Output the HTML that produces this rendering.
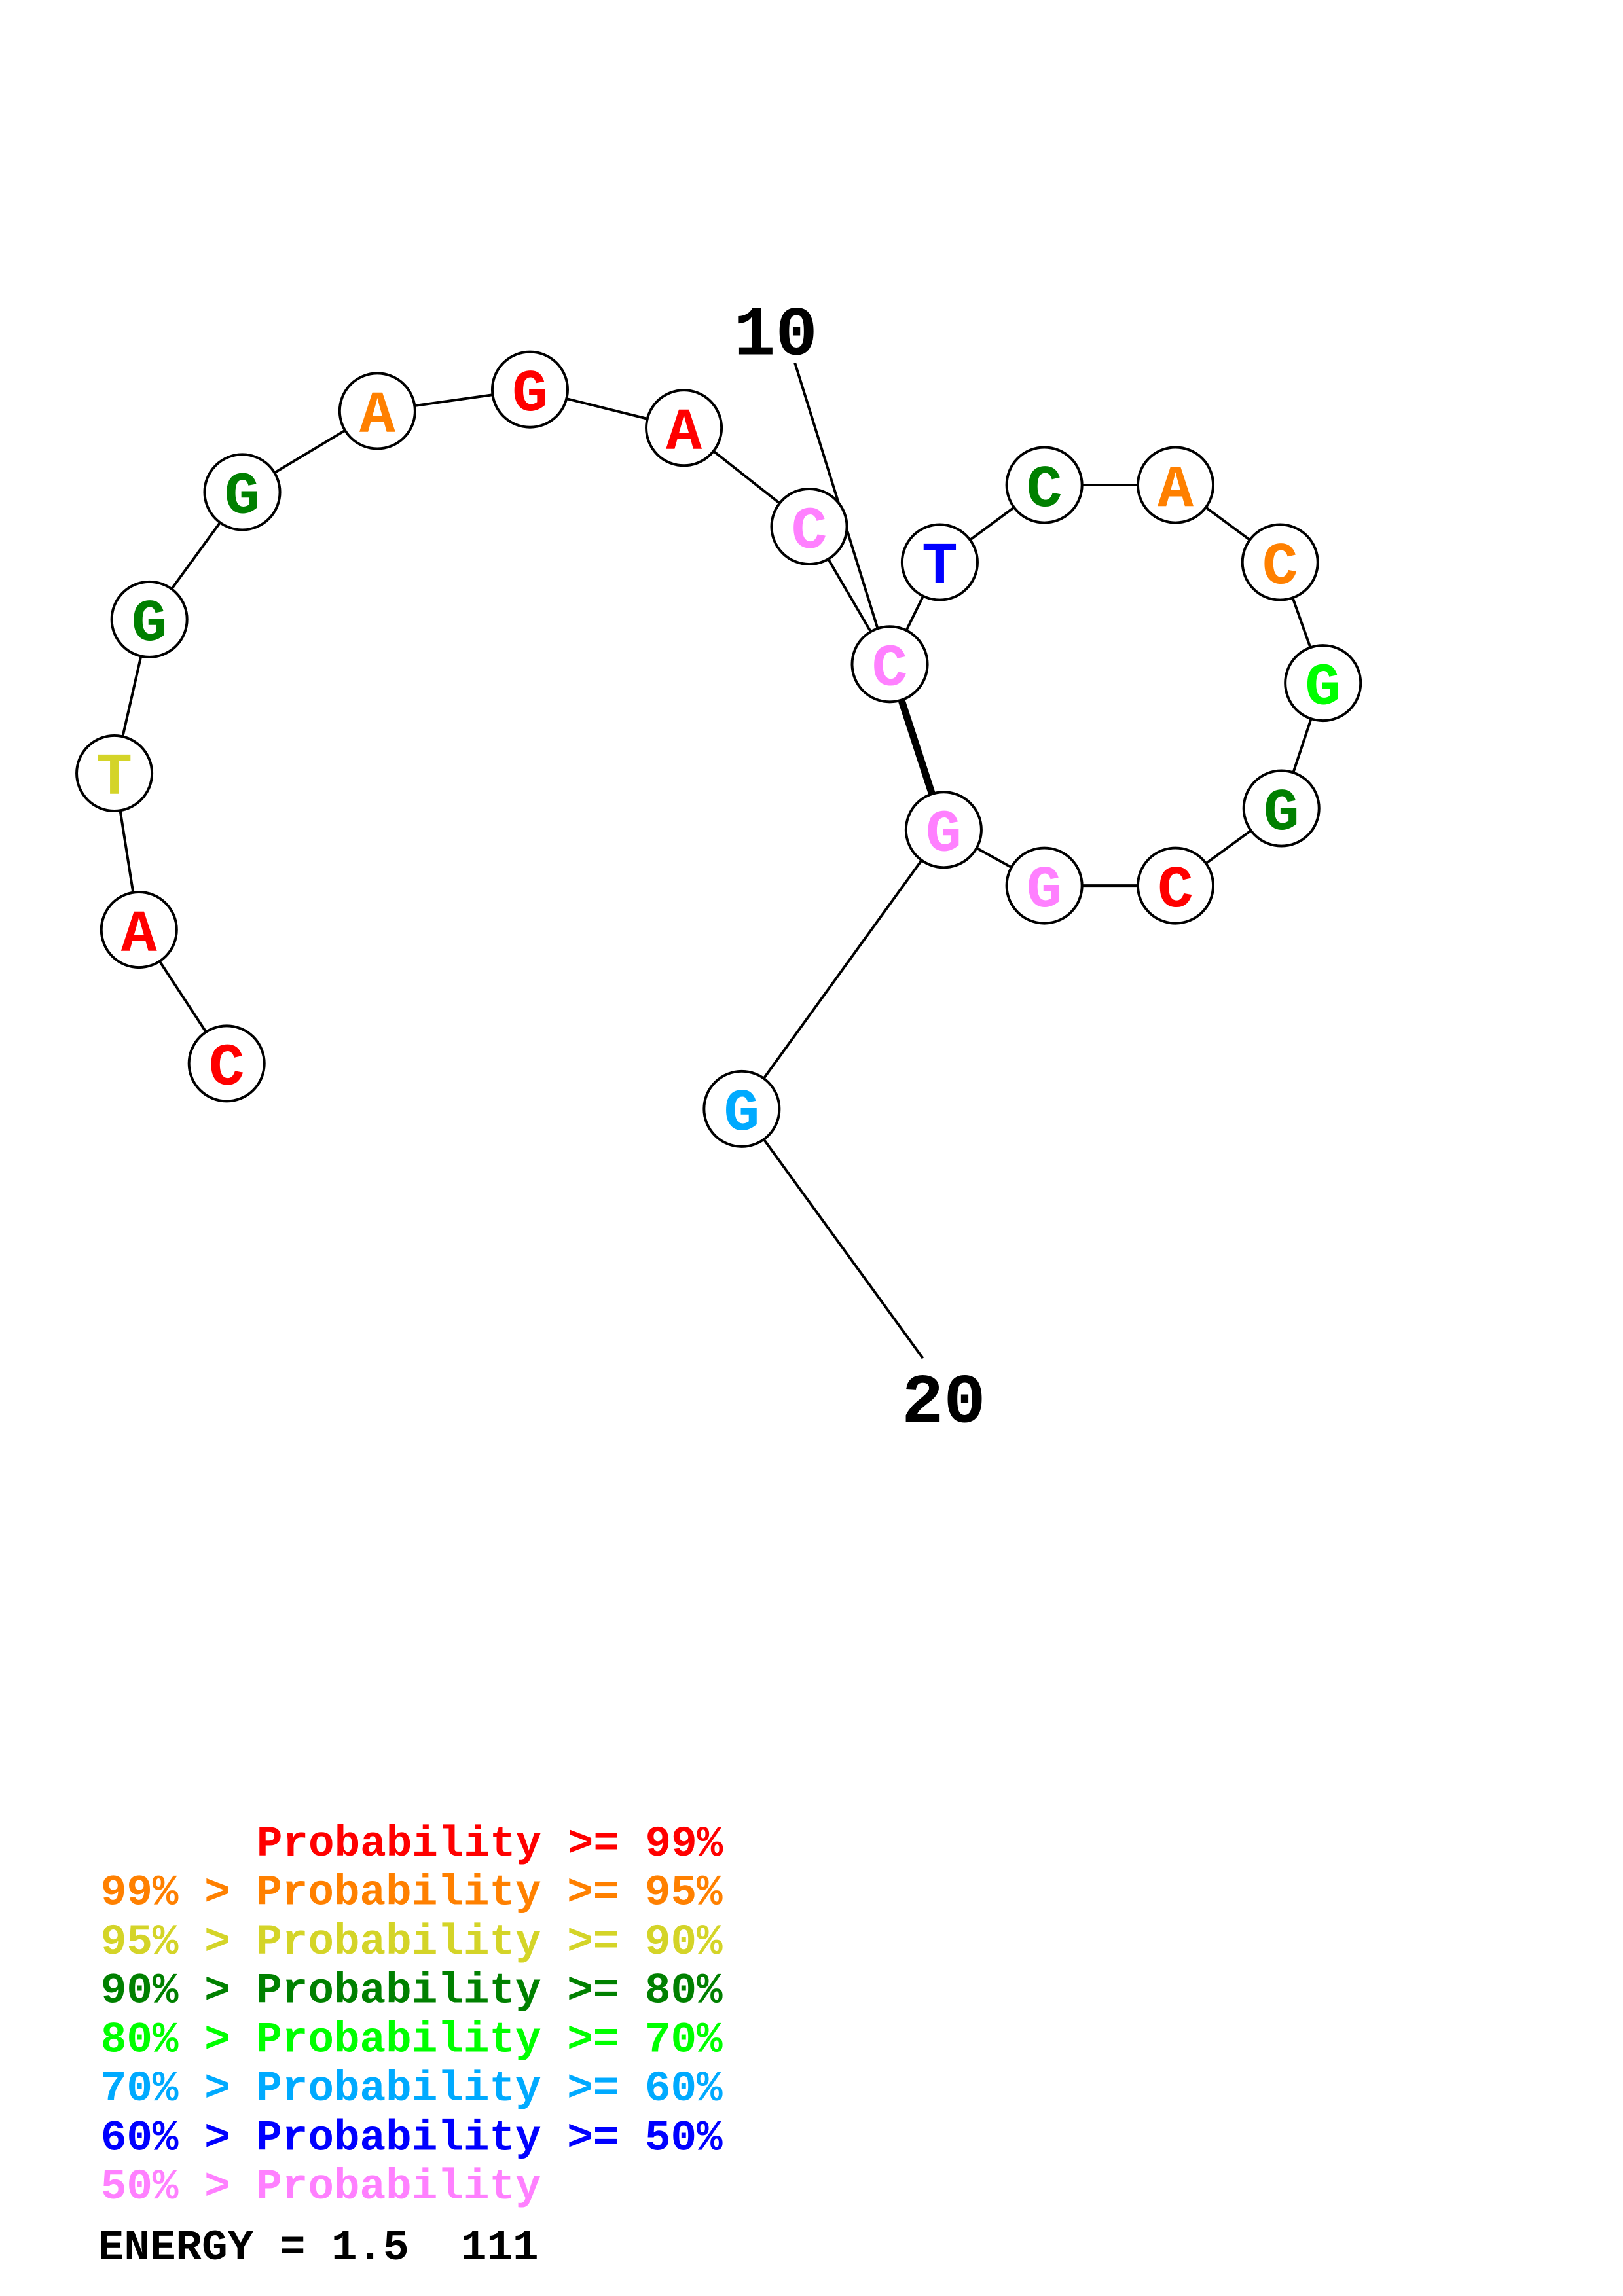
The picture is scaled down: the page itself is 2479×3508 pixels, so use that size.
<!DOCTYPE html>
<html><head><meta charset="utf-8"><style>html,body{margin:0;padding:0;background:#fff}svg{display:block}text{white-space:pre}</style></head>
<body>
<svg width="2479" height="3508" viewBox="0 0 2479 3508" xmlns="http://www.w3.org/2000/svg">
<rect width="2479" height="3508" fill="#fff"/>
<g transform="scale(0.992)">
<g stroke="#000" stroke-width="4" fill="none">
<polyline points="349,1638 214,1432 176,1191 230,954 373,758 581,633 816,600 1053,659 1246,811 1370,1023 1447,866 1608,747 1810,747 1971,866 2037,1052 1973,1245 1810,1364 1608,1364 1453,1278 1142,1708 1421,2092"/>
<line x1="1224" y1="559" x2="1352" y2="970"/>
<line x1="1370" y1="1023" x2="1453" y2="1278" stroke-width="11"/>
</g>
<g stroke="#000" stroke-width="4" fill="#fff">
<circle cx="349" cy="1638" r="58"/><circle cx="214" cy="1432" r="58"/><circle cx="176" cy="1191" r="58"/>
<circle cx="230" cy="954" r="58"/><circle cx="373" cy="758" r="58"/><circle cx="581" cy="633" r="58"/>
<circle cx="816" cy="600" r="58"/><circle cx="1053" cy="659" r="58"/><circle cx="1246" cy="811" r="58"/>
<circle cx="1370" cy="1023" r="58"/><circle cx="1447" cy="866" r="58"/><circle cx="1608" cy="747" r="58"/>
<circle cx="1810" cy="747" r="58"/><circle cx="1971" cy="866" r="58"/><circle cx="2037" cy="1052" r="58"/>
<circle cx="1973" cy="1245" r="58"/><circle cx="1810" cy="1364" r="58"/><circle cx="1608" cy="1364" r="58"/>
<circle cx="1453" cy="1278" r="58"/><circle cx="1142" cy="1708" r="58"/>
</g>
<g font-family="Liberation Mono, monospace" font-weight="bold" font-size="92" text-anchor="middle">
<text x="349" y="1670" fill="#ff0000">C</text>
<text x="214" y="1464" fill="#ff0000">A</text>
<text x="176" y="1223" fill="#d4d428">T</text>
<text x="230" y="986" fill="#008000">G</text>
<text x="373" y="790" fill="#008000">G</text>
<text x="581" y="665" fill="#ff8000">A</text>
<text x="816" y="632" fill="#ff0000">G</text>
<text x="1053" y="691" fill="#ff0000">A</text>
<text x="1246" y="843" fill="#ff80ff">C</text>
<text x="1370" y="1055" fill="#ff80ff">C</text>
<text x="1447" y="898" fill="#0000ff">T</text>
<text x="1608" y="779" fill="#008000">C</text>
<text x="1810" y="779" fill="#ff8000">A</text>
<text x="1971" y="898" fill="#ff8000">C</text>
<text x="2037" y="1084" fill="#00ff00">G</text>
<text x="1973" y="1277" fill="#008000">G</text>
<text x="1810" y="1396" fill="#ff0000">C</text>
<text x="1608" y="1396" fill="#ff80ff">G</text>
<text x="1453" y="1310" fill="#ff80ff">G</text>
<text x="1142" y="1740" fill="#00aaff">G</text>
</g>
<g font-family="Liberation Mono, monospace" font-weight="bold" font-size="108" text-anchor="middle" fill="#000">
<text x="1194" y="546">10</text>
<text x="1453" y="2190">20</text>
</g>
<g font-family="Liberation Mono, monospace" font-weight="bold" font-size="66.5">
<text x="395" y="2858" fill="#ff0000">Probability &gt;= 99%</text>
<text x="155" y="2933" fill="#ff8000">99% &gt; Probability &gt;= 95%</text>
<text x="155" y="3009" fill="#d4d428">95% &gt; Probability &gt;= 90%</text>
<text x="155" y="3084" fill="#008000">90% &gt; Probability &gt;= 80%</text>
<text x="155" y="3160" fill="#00ff00">80% &gt; Probability &gt;= 70%</text>
<text x="155" y="3235" fill="#00aaff">70% &gt; Probability &gt;= 60%</text>
<text x="155" y="3311" fill="#0000ff">60% &gt; Probability &gt;= 50%</text>
<text x="155" y="3386" fill="#ff80ff">50% &gt; Probability</text>
<text x="151" y="3480" fill="#000">ENERGY = 1.5  111</text>
</g>
</g>
</svg>
</body></html>
